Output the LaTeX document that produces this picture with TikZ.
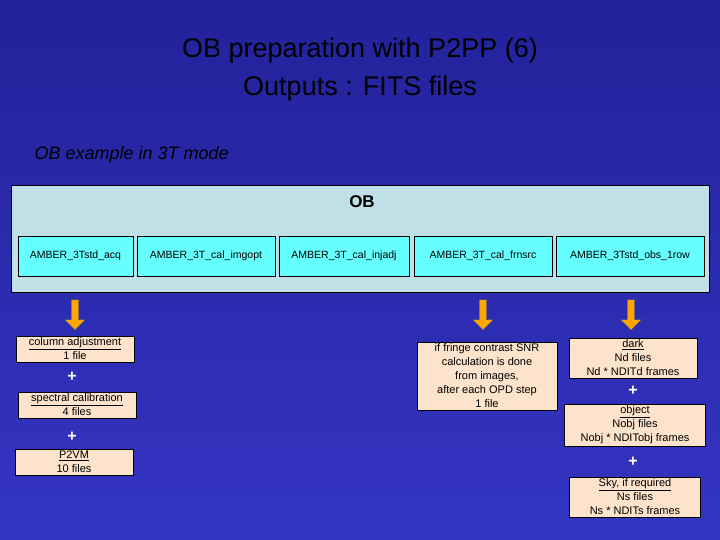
\documentclass[tikz,border=0pt]{standalone}
\usepackage{fontspec}
\setmainfont{Liberation Sans}
\usetikzlibrary{arrows.meta, positioning, shapes.arrows}
\definecolor{slidebg}{HTML}{3434C4}
\definecolor{slidetop}{HTML}{22229A}
\definecolor{obfill}{HTML}{BEE0E6}
\definecolor{stepfill}{HTML}{66FFFF}
\definecolor{outfill}{HTML}{FDE3CB}
\definecolor{arrowfill}{HTML}{FFA500}
\begin{document}
\begin{tikzpicture}
                    [
                    x=1pt, y=-1pt,
                    template/.style={
                        rectangle,
                        draw=black,
                        fill=stepfill,
                        minimum height=40pt,
                        inner sep=1pt,
                        font=\fontsize{10.5}{12}\selectfont
                    },
                    output/.style={
                        rectangle,
                        draw=black,
                        fill=outfill,
                        align=center,
                        inner sep=2pt,
                        font=\fontsize{11}{14}\selectfont
                    },
                    plus/.style={
                        text=white,
                        font=\bfseries\fontsize{16}{16}\selectfont
                    },
                    downarrow/.style={
                        single arrow,
                        draw=black!60,
                        fill=arrowfill,
                        shape border rotate=270,
                        minimum height=30pt,
                        minimum width=20pt,
                        single arrow head extend=4pt,
                        inner sep=2pt
                    }
                    ]

                    % background
                    \shade[top color=slidetop, bottom color=slidebg] (0,0) rectangle (720,540);
                    \useasboundingbox (0,0) rectangle (720,540);

                    % titles
                    \node (title) [font=\fontsize{27}{38}\selectfont, text=black, align=center] at (360,70) {OB preparation with P2PP (6)\\Outputs : FITS files};
                    \node (example) [font=\itshape\fontsize{18}{20}\selectfont, anchor=west] at (31,155) {OB example in 3T mode};

                    % OB container
                    \draw[fill=obfill, draw=black] (11,185) rectangle (709,292);
                    \node (ob) [font=\bfseries\fontsize{17}{18}\selectfont] at (362,202) {OB};

                    % templates
                    \node (acq) [template, minimum width=115pt] at (75.5,256) {AMBER\_3Tstd\_acq};
                    \node (imgopt) [template, minimum width=138pt] at (206,256) {AMBER\_3T\_cal\_imgopt};
                    \node (injadj) [template, minimum width=130pt] at (344,256) {AMBER\_3T\_cal\_injadj};
                    \node (frnsrc) [template, minimum width=138pt] at (483,256) {AMBER\_3T\_cal\_frnsrc};
                    \node (obs) [template, minimum width=148pt] at (630,256) {AMBER\_3Tstd\_obs\_1row};

                    % arrows
                    \node (arracq) [downarrow] at (75,313) {};
                    \node (arrfrn) [downarrow] at (483,313) {};
                    \node (arrobs) [downarrow] at (631,313) {};

                    % outputs of acquisition
                    \node (column) [output, minimum width=118pt] at (75,349) {\underline{column adjustment}\\1 file};
                    \node (plusa) [plus] at (72,377) {+};
                    \node (spectral) [output, minimum width=118pt] at (77,405) {\underline{spectral calibration}\\4 files};
                    \node (plusb) [plus] at (72,437) {+};
                    \node (ptvm) [output, minimum width=118pt] at (74,462) {\underline{P2VM}\\10 files};

                    % outputs of fringe search
                    \node (fringe) [output, minimum width=140pt] at (487,376) {if fringe contrast SNR\\calculation is done\\from images,\\after each OPD step\\1 file};

                    % outputs of observation
                    \node (dark) [output, minimum width=128pt] at (633,358) {\underline{dark}\\Nd files\\Nd * NDITd frames};
                    \node (plusc) [plus] at (633,391) {+};
                    \node (object) [output, minimum width=141pt] at (635,425) {\underline{object}\\Nobj files\\Nobj * NDITobj frames};
                    \node (plusd) [plus] at (633,462) {+};
                    \node (sky) [output, minimum width=131pt] at (635,497) {\underline{Sky, if required}\\Ns files\\Ns * NDITs frames};

                \end{tikzpicture}
\end{document}
